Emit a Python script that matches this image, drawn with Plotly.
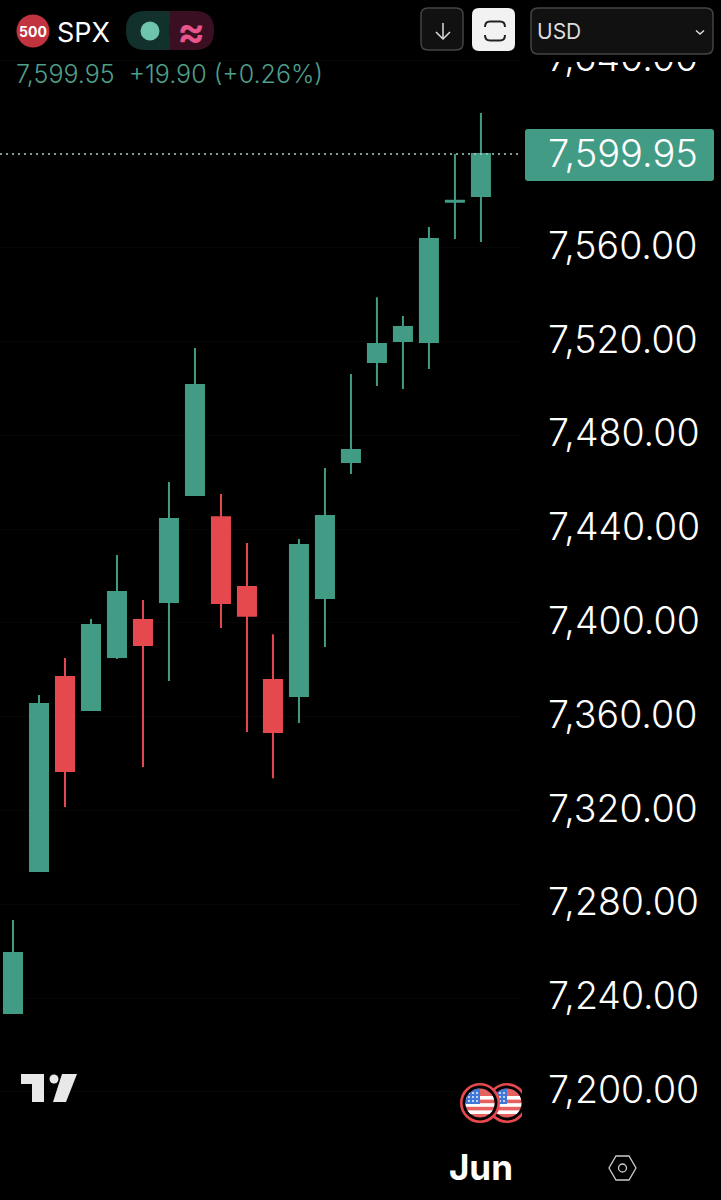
import base64
import plotly.graph_objects as go

# Daily candles
dates = ['May 5', 'May 6', 'May 7', 'May 8', 'May 11', 'May 12', 'May 13', 'May 14', 'May 15', 'May 18',
         'May 19', 'May 20', 'May 21', 'May 22', 'May 26', 'May 27', 'May 28', 'May 29', 'Jun 1']
opens = [7233.6, 7294.2, 7376.9, 7362.9, 7385.5, 7401.2, 7408.9, 7454.5, 7445.1, 7415.3,
         7375.6, 7368.8, 7410.6, 7468.6, 7511.2, 7520.2, 7519.8, 7579.6, 7582.0]
highs = [7273.3, 7369.2, 7385.0, 7401.7, 7429.0, 7409.8, 7460.1, 7517.2, 7455.0, 7434.1,
         7395.2, 7435.8, 7466.0, 7506.1, 7538.9, 7530.9, 7568.8, 7599.95, 7617.4]
lows = [7233.6, 7294.2, 7321.5, 7362.9, 7384.6, 7338.5, 7375.2, 7454.5, 7397.8, 7353.5,
        7333.8, 7357.3, 7389.7, 7463.5, 7501.0, 7499.7, 7508.3, 7563.7, 7562.4]
closes = [7259.2, 7365.4, 7336.8, 7399.1, 7413.2, 7390.6, 7444.3, 7501.4, 7408.5, 7403.0,
          7353.5, 7433.2, 7445.6, 7473.7, 7518.9, 7526.2, 7563.7, 7580.05, 7599.95]

price_ticks = [7200, 7240, 7280, 7320, 7360, 7400, 7440, 7480, 7520, 7560, 7600, 7640]
price_labels = ['7,200.00', '7,240.00', '7,280.00', '7,320.00', '7,360.00', '7,400.00',
                '7,440.00', '7,480.00', '7,520.00', '7,560.00', '', '7,640.00']
last_price = 7599.95
last_label = '7,599.95'
change_label = '7,599.95  +19.90 (+0.26%)'

GREEN = '#429c85'
RED = '#e5484d'
FONT = 'Inter'
W, H = 721, 1200
PLOT_W, PLOT_H = 522, 1130


# paper coordinates from picture pixels
def xp(x):
    return x / PLOT_W


def yp(y):
    return (PLOT_H - y) / PLOT_H


def path(points, close=True):
    s = 'M' + ' L'.join(f'{xp(x):.5f},{yp(y):.5f}' for x, y in points)
    return s + (' Z' if close else '')


def rounded(x0, y0, x1, y1, r):
    # rounded box, corners as quadratic curves
    return (f'M{xp(x0 + r):.5f},{yp(y0):.5f} L{xp(x1 - r):.5f},{yp(y0):.5f} '
            f'Q{xp(x1):.5f},{yp(y0):.5f} {xp(x1):.5f},{yp(y0 + r):.5f} '
            f'L{xp(x1):.5f},{yp(y1 - r):.5f} Q{xp(x1):.5f},{yp(y1):.5f} {xp(x1 - r):.5f},{yp(y1):.5f} '
            f'L{xp(x0 + r):.5f},{yp(y1):.5f} Q{xp(x0):.5f},{yp(y1):.5f} {xp(x0):.5f},{yp(y1 - r):.5f} '
            f'L{xp(x0):.5f},{yp(y0 + r):.5f} Q{xp(x0):.5f},{yp(y0):.5f} {xp(x0 + r):.5f},{yp(y0):.5f} Z')


def shape_path(d, fill='rgba(0,0,0,0)', line='rgba(0,0,0,0)', width=0):
    return dict(type='path', path=d, xref='paper', yref='paper', fillcolor=fill,
                line=dict(color=line, width=width), layer='above')


def circle(cx, cy, r, fill, line='rgba(0,0,0,0)', width=0):
    return dict(type='circle', xref='paper', yref='paper', x0=xp(cx - r), x1=xp(cx + r),
                y0=yp(cy + r), y1=yp(cy - r), fillcolor=fill,
                line=dict(color=line, width=width), layer='above')


def rect(x0, y0, x1, y1, fill):
    return dict(type='rect', xref='paper', yref='paper', x0=xp(x0), x1=xp(x1), y0=yp(y1), y1=yp(y0),
                fillcolor=fill, line=dict(width=0), layer='above')


def label(text, x, y, size, color, anchor='left', weight=400):
    return dict(text=text, xref='paper', yref='paper', x=xp(x), y=yp(y), xanchor=anchor, yanchor='middle',
                showarrow=False, font=dict(family=FONT, size=size, color=color, weight=weight))


def flag_svg(width):
    stripes = ''.join(f'<rect x="0" y="{y}" width="40" height="3.6" fill="#fff"/>' for y in (13, 20.2, 27.4))
    dots = ''.join(f'<circle cx="{x}" cy="{y}" r="0.9" fill="#fff"/>' for x in (9, 13, 17) for y in (10, 14, 18))
    svg = (f'<svg xmlns="http://www.w3.org/2000/svg" width="{width}" height="40" viewBox="0 0 {width} 40">'
           '<defs><clipPath id="c"><circle cx="20" cy="20" r="14.5"/></clipPath></defs>'
           '<circle cx="20" cy="20" r="18.7" fill="#000" stroke="#e5484d" stroke-width="2.6"/>'
           '<g clip-path="url(#c)"><rect width="40" height="40" fill="#e5605f"/>' + stripes +
           '<rect width="20" height="21" fill="#3f78d8"/>' + dots + '</g></svg>')
    return 'data:image/svg+xml;base64,' + base64.b64encode(svg.encode()).decode()


fig = go.Figure(go.Candlestick(
    x=dates, open=opens, high=highs, low=lows, close=closes,
    increasing=dict(line=dict(color=GREEN, width=2), fillcolor=GREEN),
    decreasing=dict(line=dict(color=RED, width=2), fillcolor=RED),
    whiskerwidth=0, showlegend=False,
))

shapes = [
    dict(type='line', xref='paper', yref='y', x0=0, x1=1, y0=last_price, y1=last_price,
         line=dict(color='#a0d0c2', width=1.5, dash='2px,4px'), layer='above'),
    rect(525, 0, 721, 62, '#000000'),
    shape_path(rounded(525, 129, 714, 181, 3), fill=GREEN),
    # ticker badge and status pill
    circle(33, 31, 16.5, '#c0333f'),
    shape_path(rounded(126, 11, 171, 50, 19), fill='#12302c'),
    rect(150, 11, 170, 50, '#12302c'),
    shape_path(rounded(169, 11, 214, 50, 19), fill='#3a0f22'),
    rect(170, 11, 190, 50, '#3a0f22'),
    circle(150, 31, 9.5, '#6fc4ae'),
    # buttons
    shape_path(rounded(421, 8, 463, 50, 7), fill='#111111', line='#444444', width=1.5),
    shape_path(path([(443, 23), (443, 39)], close=False), line='#dddddd', width=1.5),
    shape_path(path([(436, 32), (443, 39), (450, 32)], close=False), line='#dddddd', width=1.5),
    shape_path(rounded(472, 8, 515, 51, 7), fill='#f2f2f2'),
    shape_path(f'M{xp(485):.5f},{yp(27):.5f} Q{xp(485):.5f},{yp(21.5):.5f} {xp(490):.5f},{yp(21.5):.5f} '
               f'L{xp(500):.5f},{yp(21.5):.5f} Q{xp(505):.5f},{yp(21.5):.5f} {xp(505):.5f},{yp(27):.5f}',
               line='#222222', width=2),
    shape_path(f'M{xp(485):.5f},{yp(35):.5f} Q{xp(485):.5f},{yp(40.5):.5f} {xp(490):.5f},{yp(40.5):.5f} '
               f'L{xp(500):.5f},{yp(40.5):.5f} Q{xp(505):.5f},{yp(40.5):.5f} {xp(505):.5f},{yp(35):.5f}',
               line='#222222', width=2),
    shape_path(rounded(531, 8, 713, 54, 7), fill='#111111', line='#444444', width=1.5),
    shape_path(path([(696, 30.5), (700, 34), (704, 30.5)], close=False), line='#dddddd', width=1.5),
    # TradingView mark
    shape_path(path([(21, 1074), (44, 1074), (44, 1102), (32, 1102), (32, 1084), (21, 1084)]), fill='#e8e8e8'),
    circle(54, 1079, 4.5, '#e8e8e8'),
    shape_path(path([(62, 1074), (77, 1074), (66, 1102), (53, 1102)]), fill='#e8e8e8'),
    # settings hexagon
    shape_path(path([(616, 1156), (629, 1156), (636, 1168), (629, 1180), (616, 1180), (609, 1168)]),
               line='#cccccc', width=1.3),
    circle(622.5, 1168, 4, 'rgba(0,0,0,0)', line='#cccccc', width=1.3),
]

annotations = [
    label('500', 33, 31.5, 14, '#ffffff', anchor='center', weight=700),
    label('SPX', 55, 32, 27, '#ffffff'),
    label('≈', 191, 30, 42, '#e8548c', anchor='center', weight=600),
    label(change_label, 14, 74, 25, '#4f9f89', weight=300),
    label('USD', 535, 31, 21, '#dddddd'),
    label(last_label, 700, 153, 38, '#ffffff', anchor='right', weight=300),
]

images = [
    dict(source=flag_svg(35), xref='paper', yref='paper', x=xp(487), y=yp(1083), sizex=xp(35), sizey=40 / PLOT_H,
         xanchor='left', yanchor='top', sizing='stretch', layer='above'),
    dict(source=flag_svg(40), xref='paper', yref='paper', x=xp(460), y=yp(1083), sizex=xp(40), sizey=40 / PLOT_H,
         xanchor='left', yanchor='top', sizing='stretch', layer='above'),
]

fig.update_layout(
    width=W, height=H,
    margin=dict(l=0, r=W - PLOT_W, t=0, b=H - PLOT_H, pad=0),
    paper_bgcolor='#000000', plot_bgcolor='#000000',
    boxgap=0.01,
    dragmode=False,
    shapes=shapes, annotations=annotations, images=images,
)
fig.update_xaxes(
    type='category', range=[-0.5, 19.58], rangeslider_visible=False, showgrid=False, zeroline=False,
    tickmode='array', tickvals=['Jun 1'], ticktext=['Jun'], ticks='', showline=False,
    ticklabelstandoff=14, tickfont=dict(family=FONT, size=35, color='#ffffff', weight=700),
)
fig.update_yaxes(
    side='right', range=[7183.75, 7665.62], tickmode='array', tickvals=price_ticks, ticktext=price_labels,
    gridcolor='#060606', gridwidth=1, zeroline=False, showline=False, ticks='', automargin=False,
    ticklabelstandoff=25, ticklabelshift=-2,
    tickfont=dict(family=FONT, size=37.5, color='#ffffff', weight=300),
)

fig.write_html("out.html", config=dict(displayModeBar=False),
               post_script="document.body.style.margin='0';document.body.style.background='#000';")
